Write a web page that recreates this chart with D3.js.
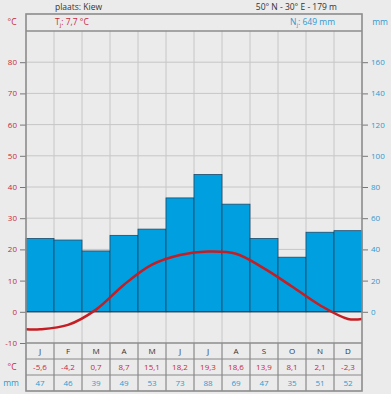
<!DOCTYPE html>
<html><head><meta charset="utf-8">
<script src="https://cdn.jsdelivr.net/npm/d3@7/dist/d3.min.js"></script>
<style>
html,body{margin:0;padding:0;background:#ebebeb;}
svg{display:block;font-family:"Open Sans","Noto Sans",sans-serif;}
</style></head>
<body>
<svg id="c" width="391" height="394"></svg>
<script>
const months = ["J","F","M","A","M","J","J","A","S","O","N","D"];
const temps = [-5.6,-4.2,0.7,8.7,15.1,18.2,19.3,18.6,13.9,8.1,2.1,-2.3];
const precip = [47,46,39,49,53,73,88,69,47,35,51,52];
const tempLabels = ["-5,6","-4,2","0,7","8,7","15,1","18,2","19,3","18,6","13,9","8,1","2,1","-2,3"];
const tempTicks = [-10,0,10,20,30,40,50,60,70,80];
const precipTicks = [0,20,40,60,80,100,120,140,160];
const place = "plaats: Kiew";
const coords = "50° N - 30° E - 179 m";
const tYear = "7,7 °C";
const nYear = "649 mm";

const RED = "#c8283c", BLUE = "#2e9ad0", BAR = "#009fdf", LINE = "#c41e24";
const svg = d3.select("#c");
const L = 26, R = 362, TOP = 31, HT = 14, BOT = 343;
const idx = d3.range(12);
const x = d3.scaleBand().domain(idx).range([L, R]).padding(0);
const yT = d3.scaleLinear().domain([-10, 90]).range([BOT, TOP]);
const yP = d3.scaleLinear().domain([-20, 180]).range([BOT, TOP]);
const cx = i => x(i) + x.bandwidth() / 2;

svg.append("rect").attr("width",391).attr("height",394).attr("fill","#ebebeb");

// gridlines
const g = svg.append("g");
g.selectAll("line.h").data(tempTicks.filter(t => t > 0)).join("line").attr("class","h")
  .attr("x1", L).attr("x2", R).attr("y1", d => yT(d)).attr("y2", d => yT(d))
  .attr("stroke", "#c6c6c6").attr("stroke-width", 1);
g.selectAll("line.v").data(idx.slice(1)).join("line").attr("class","v")
  .attr("x1", d => x(d)).attr("x2", d => x(d)).attr("y1", TOP).attr("y2", BOT)
  .attr("stroke", "#c6c6c6").attr("stroke-width", 1);

// bars
svg.append("g").selectAll("rect").data(precip).join("rect")
  .attr("x", (d, i) => x(i)).attr("width", x.bandwidth())
  .attr("y", d => yP(d)).attr("height", d => yP(0) - yP(d))
  .attr("fill", BAR).attr("stroke", "#1f4a68").attr("stroke-width", 0.8);

// zero line
svg.append("line").attr("x1", L).attr("x2", R).attr("y1", yT(0)).attr("y2", yT(0))
  .attr("stroke", "#2a3a44").attr("stroke-width", 1);

// temperature curve
const pts = [[L, temps[0]]].concat(temps.map((t, i) => [cx(i), t])).concat([[R, temps[11]]]);
svg.append("clipPath").attr("id","cp").append("rect").attr("x",L).attr("y",TOP).attr("width",R-L).attr("height",BOT-TOP);
svg.append("path").datum(pts)
  .attr("d", d3.line().x(d => d[0]).y(d => yT(d[1])).curve(d3.curveCatmullRom.alpha(0.5)))
  .attr("fill", "none").attr("stroke", LINE).attr("stroke-width", 2.5).attr("clip-path","url(#cp)");

// axes
const la = svg.append("g").attr("transform", `translate(${L},0)`)
  .call(d3.axisLeft(yT).tickValues(tempTicks).tickSize(6).tickPadding(3).tickFormat(d => d));
la.select(".domain").remove();
la.selectAll("line").attr("stroke", "#777");
la.selectAll("text").attr("fill", RED).attr("font-size", 8).attr("font-family","Open Sans");
const ra = svg.append("g").attr("transform", `translate(${R},0)`)
  .call(d3.axisRight(yP).tickValues(precipTicks).tickSize(6).tickPadding(3).tickFormat(d => d));
ra.select(".domain").remove();
ra.selectAll("line").attr("stroke", "#777");
ra.selectAll("text").attr("fill", BLUE).attr("font-size", 8).attr("font-family","Open Sans");

// table
const rowY = [343, 359, 375, 391];
const tb = svg.append("g");
tb.selectAll("line.tv").data(idx.slice(1)).join("line").attr("class","tv")
  .attr("x1", d => x(d)).attr("x2", d => x(d)).attr("y1", rowY[0]).attr("y2", rowY[3])
  .attr("stroke", "#777").attr("stroke-width", 1);
tb.selectAll("line.th").data(rowY.slice(1,3)).join("line").attr("class","th")
  .attr("x1", L).attr("x2", R).attr("y1", d => d).attr("y2", d => d)
  .attr("stroke", "#888").attr("stroke-width", 1);
tb.selectAll("text.m").data(months).join("text").attr("class","m")
  .attr("x", (d, i) => cx(i)).attr("y", 354).attr("text-anchor","middle")
  .attr("font-size", 8).attr("fill", "#333").text(d => d);
tb.selectAll("text.t").data(tempLabels).join("text").attr("class","t")
  .attr("x", (d, i) => cx(i)).attr("y", 370).attr("text-anchor","middle")
  .attr("font-size", 8).attr("fill", RED).text(d => d);
tb.selectAll("text.p").data(precip).join("text").attr("class","p")
  .attr("x", (d, i) => cx(i)).attr("y", 386).attr("text-anchor","middle")
  .attr("font-size", 8).attr("fill", BLUE).text(d => d);

// frame
const fr = svg.append("g").attr("stroke", "#8c8c8c").attr("stroke-width", 1.6).attr("fill","none");
fr.append("rect").attr("x", L).attr("y", HT).attr("width", R - L).attr("height", 391 - HT);
fr.append("line").attr("x1", L).attr("x2", R).attr("y1", TOP).attr("y2", TOP);
fr.append("line").attr("x1", L).attr("x2", R).attr("y1", BOT).attr("y2", BOT);

// header texts
svg.append("text").attr("x", 55).attr("y", 10).attr("font-size", 8.5).attr("fill", "#333").text(place);
svg.append("text").attr("x", 337).attr("y", 10).attr("text-anchor","end").attr("font-size", 8.5).attr("fill", "#333").text(coords);
const tt = svg.append("text").attr("x", 55).attr("y", 25).attr("font-size", 8.5).attr("fill", RED);
tt.append("tspan").text("T");
tt.append("tspan").attr("font-size", 6).attr("dy", 2).text("j");
tt.append("tspan").attr("dy", -2).text(": " + tYear);
const nt = svg.append("text").attr("x", 335).attr("y", 25).attr("text-anchor","end").attr("font-size", 8.5).attr("fill", BLUE);
nt.append("tspan").text("N");
nt.append("tspan").attr("font-size", 6).attr("dy", 2).text("j");
nt.append("tspan").attr("dy", -2).text(": " + nYear);

svg.append("text").attr("x", 12).attr("y", 25).attr("text-anchor","middle").attr("font-size", 8.5).attr("fill", RED).text("°C");
svg.append("text").attr("x", 380).attr("y", 25).attr("text-anchor","middle").attr("font-size", 8.5).attr("fill", BLUE).text("mm");
svg.append("text").attr("x", 12).attr("y", 370).attr("text-anchor","middle").attr("font-size", 8.5).attr("fill", RED).text("°C");
svg.append("text").attr("x", 11).attr("y", 386).attr("text-anchor","middle").attr("font-size", 8.5).attr("fill", BLUE).text("mm");
</script>
</body></html>
